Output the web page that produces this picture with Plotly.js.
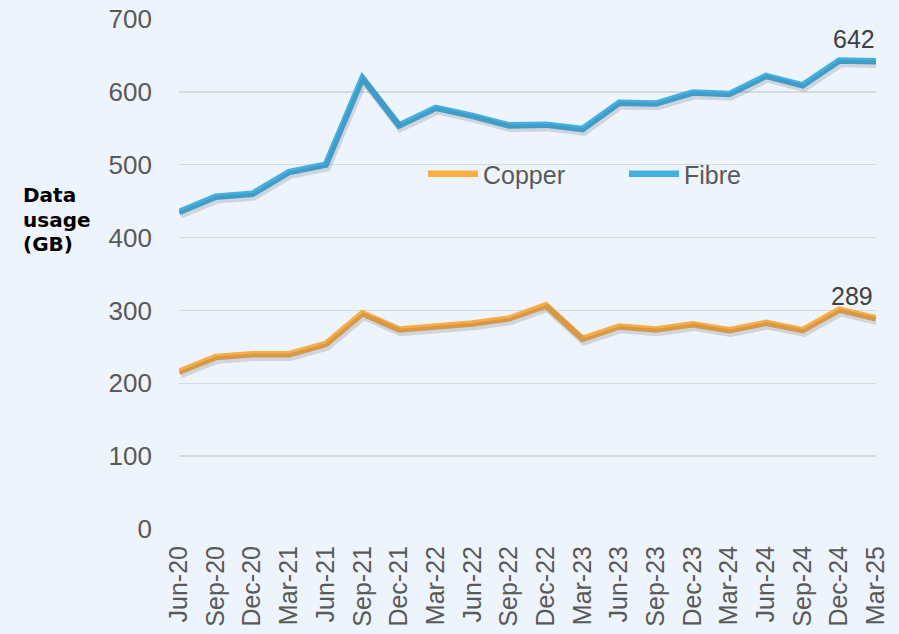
<!DOCTYPE html>
<html><head><meta charset="utf-8">
<script src="https://cdn.plot.ly/plotly-3.0.1.min.js"></script>
<style>html,body{margin:0;padding:0;background:#eef4fb;}</style>
</head><body>
<div id="chart" style="width:899px;height:634px;"></div>
<script>
const quarters = ["Jun-20","Sep-20","Dec-20","Mar-21","Jun-21","Sep-21","Dec-21","Mar-22","Jun-22","Sep-22","Dec-22","Mar-23","Jun-23","Sep-23","Dec-23","Mar-24","Jun-24","Sep-24","Dec-24","Mar-25"];
const copper = [216,236,240,240,254,296,274,278,282,289,307,261,278,274,281,273,283,273,301,289];
const fibre  = [435,456,460,490,500,619,554,578,567,554,555,549,585,584,599,597,622,609,643,642];
const yTicks = [0,100,200,300,400,500,600,700];
const yTitleLines = ["Data","usage","(GB)"];

const L=179, R=23, T=19, B=105, W=899, H=634;
const pw=W-L-R, ph=H-T-B;
const last = quarters.length-1;
const shiftX = 1.5*last/pw;   // shadow offset right (category units)
const shiftY = 3*700/ph;      // shadow offset down (value units)

const shadow = (y)=>({x:quarters,y:y,type:'scatter',mode:'lines',xaxis:'x2',yaxis:'y2',
  line:{color:'rgba(60,60,80,0.17)',width:7.5},hoverinfo:'skip',showlegend:false});

const data = [
  shadow(copper), shadow(fibre),
  {x:quarters,y:copper,type:'scatter',mode:'lines',name:'Copper',line:{color:'#f8ad45',width:6.5}},
  {x:quarters,y:fibre,type:'scatter',mode:'lines',name:'Fibre',line:{color:'#43b0e0',width:6.5}}
];

const ann = [
  {x:quarters[last],y:fibre[last],xref:'x',yref:'y',text:String(fibre[last]),showarrow:false,
   xanchor:'right',yanchor:'bottom',yshift:6,xshift:1,font:{size:25,color:'#404040'}},
  {x:quarters[last],y:copper[last],xref:'x',yref:'y',text:String(copper[last]),showarrow:false,
   xanchor:'right',yanchor:'bottom',yshift:6,xshift:-1,font:{size:25,color:'#404040'}}
];
const titleY=[195,220,244];
yTitleLines.forEach((t,i)=>ann.push({x:(21-L)/pw,y:(H-B-titleY[i])/ph,xref:'paper',yref:'paper',
  text:'<b>'+t+'</b>',showarrow:false,xanchor:'left',yanchor:'middle',
  font:{size:20,color:'#000000',family:'DejaVu Sans, Verdana, sans-serif'}}));

const layout = {
  width:W,height:H,
  paper_bgcolor:'#eef4fb',plot_bgcolor:'#eef4fb',
  margin:{l:L,r:R,t:T,b:B,pad:0,autoexpand:false},
  font:{family:'Liberation Sans, Arial, sans-serif',color:'#595959'},
  xaxis:{type:'category',range:[0,last],showgrid:false,zeroline:false,showline:false,
    ticks:'',tickangle:-90,tickfont:{size:25,color:'#595959'},ticklabelstandoff:11},
  yaxis:{range:[0,700],tickvals:yTicks,showgrid:true,gridcolor:'#d6d9de',gridwidth:1.5,
    zeroline:false,showline:false,ticks:'',tickfont:{size:26,color:'#595959'},ticklabelstandoff:26},
  xaxis2:{type:'category',range:[-shiftX,last-shiftX],visible:false,overlaying:'x',anchor:'y2'},
  yaxis2:{range:[shiftY,700+shiftY],visible:false,overlaying:'y',anchor:'x2'},
  showlegend:true,
  legend:{orientation:'h',x:(423-L)/pw,y:(H-B-174)/ph,xanchor:'left',yanchor:'middle',
    bgcolor:'rgba(0,0,0,0)',font:{size:25,color:'#595959'},entrywidth:136,itemwidth:50,
    traceorder:'normal'},
  annotations:ann
};

Plotly.newPlot('chart',data,layout,{displayModeBar:false,staticPlot:true});
</script>
</body></html>
